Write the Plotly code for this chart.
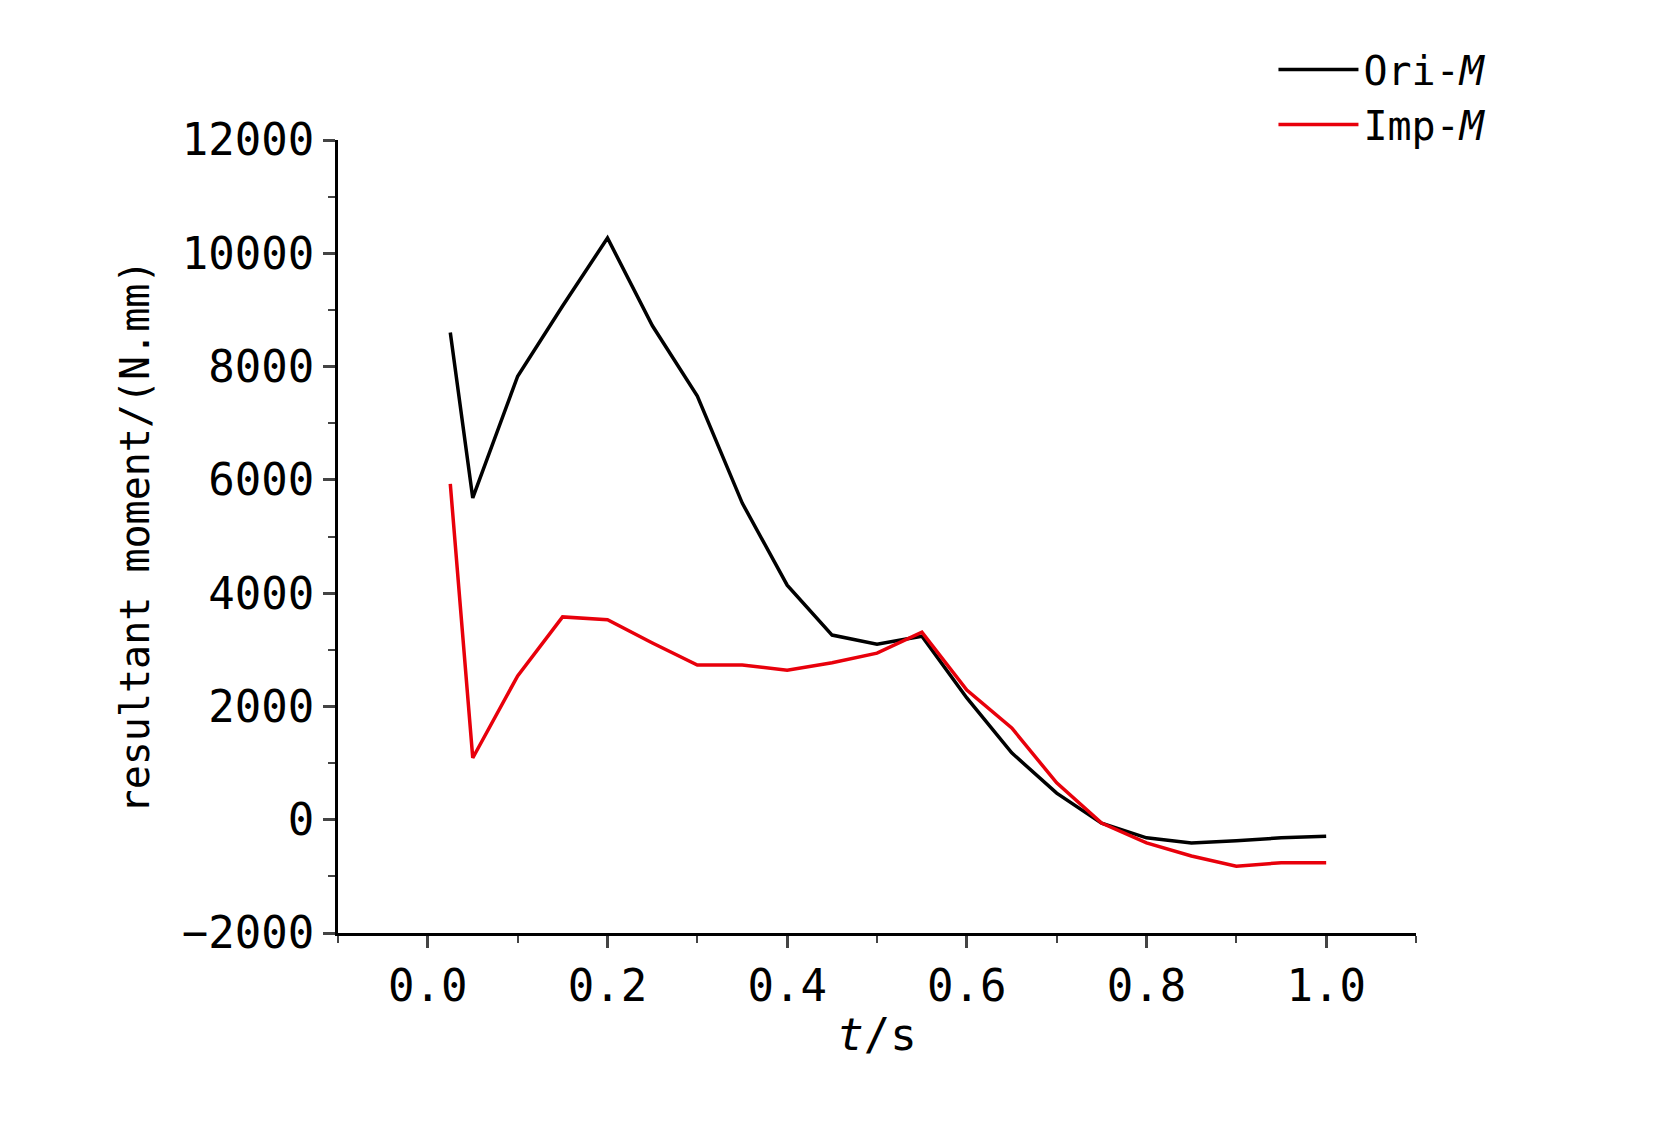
import plotly.graph_objects as go

t = [0.025, 0.05, 0.1, 0.15, 0.2, 0.25, 0.3, 0.35, 0.4, 0.45, 0.5, 0.55, 0.6, 0.65, 0.7, 0.75, 0.8, 0.85, 0.9, 0.95, 1.0]
ori_m = [8600, 5680, 7830, 9070, 10270, 8720, 7480, 5590, 4140, 3260, 3100, 3240, 2150, 1180, 470, -60, -320, -410, -370, -320, -290]
imp_m = [5930, 1090, 2540, 3580, 3530, 3120, 2730, 2730, 2640, 2770, 2940, 3310, 2290, 1620, 650, -60, -410, -640, -820, -760, -760]

fig = go.Figure()
fig.add_trace(go.Scatter(x=t, y=ori_m, mode="lines", name="Ori-<i>M</i>", line=dict(color="black", width=3.5)))
fig.add_trace(go.Scatter(x=t, y=imp_m, mode="lines", name="Imp-<i>M</i>", line=dict(color="#e8000b", width=3.5)))

font = "DejaVu Sans Mono"
fig.update_layout(
    width=1654, height=1122, paper_bgcolor="white", plot_bgcolor="white",
    margin=dict(l=330, r=246, t=132, b=197),
    font=dict(family=font, size=40, color="black"),
    legend=dict(x=1.07, y=1.13, xanchor="right", yanchor="top", font=dict(size=40), bgcolor="rgba(0,0,0,0)",
                itemwidth=80),
    xaxis=dict(range=[-0.1, 1.1], tickvals=[0, 0.2, 0.4, 0.6, 0.8, 1.0], ticktext=["0.0", "0.2", "0.4", "0.6", "0.8", "1.0"],
               showline=True, linecolor="black", linewidth=3, ticks="outside", ticklen=12, tickwidth=3,
               minor=dict(dtick=0.1, ticks="outside", ticklen=7, tickwidth=2), showgrid=False, zeroline=False,
               tickfont=dict(size=44), title=dict(text="<i>t</i>/s", font=dict(size=44), standoff=10)),
    yaxis=dict(range=[-2000, 12000], dtick=2000, tickformat="d", showline=True, linecolor="black", linewidth=3,
               ticks="outside", ticklen=12, tickwidth=3, minor=dict(dtick=1000, ticks="outside", ticklen=7, tickwidth=2),
               showgrid=False, zeroline=False, tickfont=dict(size=44),
               title=dict(text="resultant moment/(N.mm)", font=dict(size=40), standoff=20)),
)
fig.write_html("out.html")
